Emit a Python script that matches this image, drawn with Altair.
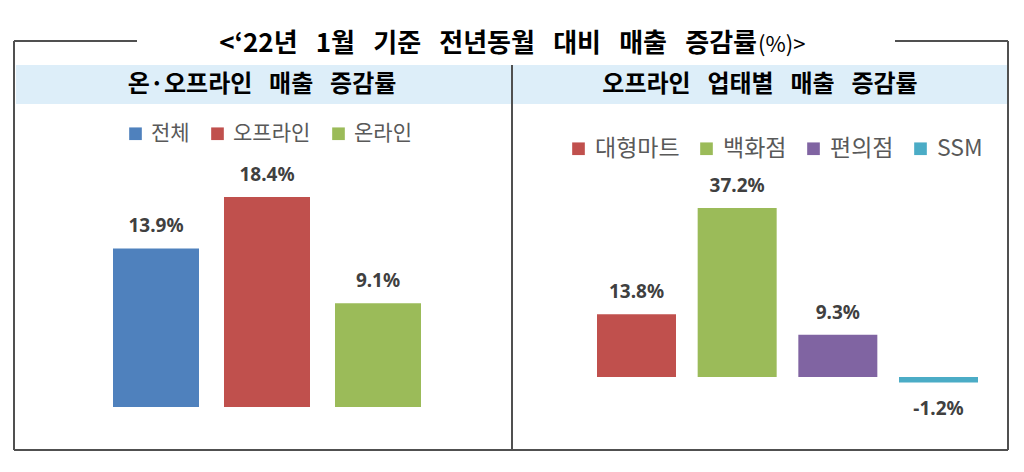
import altair as alt
import pandas as pd

# ---- text ----
TITLE_MAIN = "<‘22년\u2002\u20091월\u2002\u2009기준\u2002\u2009전년동월\u2002\u2009대비\u2002\u2009매출\u2002\u2009증감률"
TITLE_UNIT = "(%)>"
SUB_LEFT = "온·오프라인\u2002\u2009매출\u2002\u2009증감률"
SUB_RIGHT = "오프라인\u2002\u2009업태별\u2002\u2009매출\u2002\u2009증감률"

# ---- data ----
left_cats = ["전체", "오프라인", "온라인"]
left_vals = [13.9, 18.4, 9.1]
left_colors = ["#4F81BD", "#C0504D", "#9BBB59"]

right_cats = ["대형마트", "백화점", "편의점", "SSM"]
right_vals = [13.8, 37.2, 9.3, -1.2]
right_colors = ["#C0504D", "#9BBB59", "#8064A2", "#4BACC6"]

KFONT = "Noto Sans CJK KR"
NFONT = "Noto Sans"
FRAME = "#505050"

left_df = pd.DataFrame({"cat": left_cats, "value": left_vals})
right_df = pd.DataFrame({"cat": right_cats, "value": right_vals})

one = alt.Data(values=[{}])

# ---- decoration ----
band = alt.Chart(one).mark_rect(color="#DDEEF9").encode(
    x=alt.value(16), x2=alt.value(1007), y=alt.value(65), y2=alt.value(104)
)

def rule(x1, x2, y1, y2):
    return alt.Chart(one).mark_rule(color=FRAME, strokeWidth=2).encode(
        x=alt.value(x1), x2=alt.value(x2), y=alt.value(y1), y2=alt.value(y2)
    )

frame = [
    rule(14, 137, 41, 41),
    rule(895, 1008, 41, 41),
    rule(14, 14, 41, 450),
    rule(1008, 1008, 41, 450),
    rule(14, 1008, 450, 450),
    rule(512, 512, 65, 450),
]

title_main = alt.Chart(one).mark_text(
    font=KFONT, fontSize=26, fontWeight="bold", color="#000000",
    align="right", baseline="middle"
).encode(x=alt.value(757), y=alt.value(44), text=alt.value(TITLE_MAIN))

title_unit = alt.Chart(one).mark_text(
    font=KFONT, fontSize=22, fontWeight="normal", color="#000000",
    align="left", baseline="middle"
).encode(x=alt.value(758), y=alt.value(45), text=alt.value(TITLE_UNIT))

sub_left = alt.Chart(one).mark_text(
    font=KFONT, fontSize=24, fontWeight="bold", color="#000000",
    align="center", baseline="middle"
).encode(x=alt.value(262), y=alt.value(85), text=alt.value(SUB_LEFT))

sub_right = alt.Chart(one).mark_text(
    font=KFONT, fontSize=24, fontWeight="bold", color="#000000",
    align="center", baseline="middle"
).encode(x=alt.value(760), y=alt.value(85), text=alt.value(SUB_RIGHT))


def panel(df, cats, colors, ydomain, pin, xrange, lx, ly, lfs, lpad):
    xs = alt.X("cat:N", sort=cats, axis=None,
               scale=alt.Scale(paddingInner=pin, paddingOuter=0, range=xrange))
    ys = alt.Y("value:Q", axis=None,
               scale=alt.Scale(domain=ydomain, nice=False, zero=False))
    bars = alt.Chart(df).mark_bar().encode(
        x=xs, y=ys,
        color=alt.Color("cat:N", sort=cats,
                        scale=alt.Scale(domain=cats, range=colors),
                        legend=alt.Legend(
                            orient="none", legendX=lx, legendY=ly,
                            direction="horizontal", title=None,
                            symbolType="square", symbolSize=160,
                            symbolStrokeWidth=0, labelFont=KFONT,
                            labelFontSize=lfs, labelColor="#595959",
                            labelOffset=5, columnPadding=lpad, padding=0)),
    )
    base_text = alt.Chart(df).transform_calculate(
        label="replace(format(datum.value, '.1f'), '\u2212', '-') + '%'"
    )
    pos = base_text.transform_filter("datum.value >= 0").mark_text(
        font=NFONT, fontSize=19, fontWeight="bold", color="#404040",
        baseline="middle", dy=-22
    ).encode(x=xs, y=ys, text="label:N")
    neg = base_text.transform_filter("datum.value < 0").mark_text(
        font=NFONT, fontSize=19, fontWeight="bold", color="#404040",
        baseline="middle", dy=27
    ).encode(x=xs, y=ys, text="label:N")
    return alt.layer(bars, pos, neg)


left = panel(left_df, left_cats, left_colors, [-5.70, 35.67],
             0.2252, [113, 421], 125, 123, 21, 17)
right = panel(right_df, right_cats, right_colors, [-20.91, 82.98],
              0.2152, [597, 978], 567, 137, 23, 15)

chart = alt.layer(
    band, *frame, title_main, title_unit, sub_left, sub_right, left, right
).resolve_scale(
    x="independent", y="independent", color="independent"
).properties(
    width=1024, height=472,
    autosize=alt.AutoSizeParams(type="none"), padding=0
).configure_view(stroke=None)

chart.save("out.html", embed_options={"renderer": "svg", "actions": False})
